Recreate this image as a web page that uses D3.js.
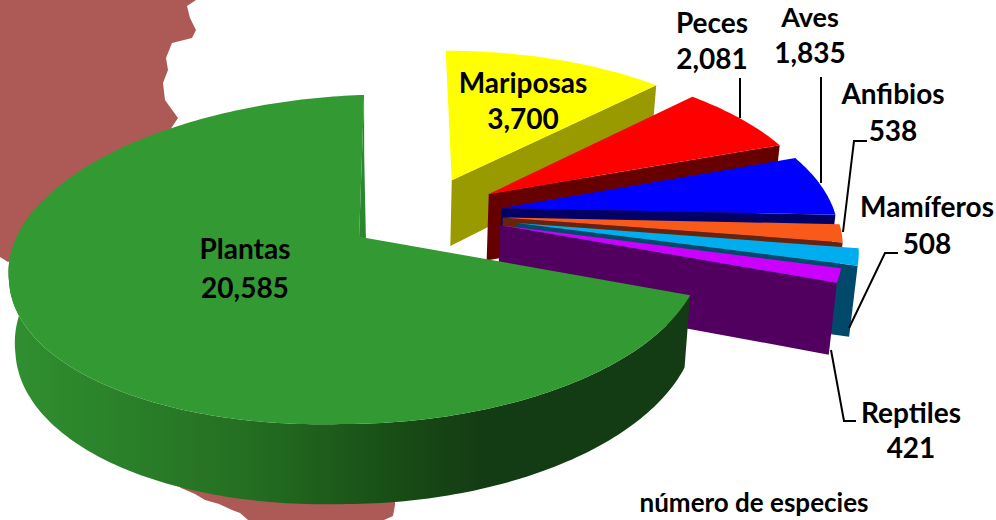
<!DOCTYPE html>
<html>
<head>
<meta charset="utf-8">
<script src="https://cdnjs.cloudflare.com/ajax/libs/d3/7.8.5/d3.min.js"></script>
<style>
  html, body { margin: 0; padding: 0; background: #fff; }
  svg { display: block; }
  text { font-family: Lato, "Open Sans", sans-serif; font-weight: 700; fill: #000; text-anchor: middle; }
</style>
</head>
<body>
<div id="chart"></div>
<script>
//Data, clockwise from the top of the pie
const names = ["Mariposas", "Peces", "Aves", "Anfibios", "Mamíferos", "Reptiles", "Plantas"];
const counts = [3700, 2081, 1835, 538, 508, 421, 20585];
const axisNote = "número de especies";

//Slice styles
const topColors = ["#ffff00", "#ff0000", "#0000ff", "#f95a1a", "#00aeef", "#cc00ff", "#339933"];
const faceColors = ["#999900", "#660000", "#000066", "#642410", "#00496b", "#520060", "#2c862e"];
const explode = [0.24, 0.24, 0.24, 0.24, 0.285, 0.24, 0.23];

//Label layout: [x, name baseline, value baseline, font size of the name]
const labelPos = [[523, 93, 129, 28], [712, 33, 69, 28], [810, 27, 63, 27], [893, 104, 141, 28], [927, 217, 254, 28], [911, 423, 458, 28], [245, 259, 298, 28]];
const leaders = [
  null,
  [[740, 78], [740, 118]],
  [[821, 77], [821, 183]],
  [[867, 141], [854, 141], [843, 232]],
  [[898, 253], [885, 253], [849, 328]],
  [[856, 421], [844, 421], [831, 350]],
  null
];

//Background map, bits that stick out behind the pie
const mapLeft = [[0, 0], [196, 0], [187, 6], [190, 18], [196, 30], [192, 38], [172, 43], [166, 58], [168, 70], [163, 83], [165, 100], [178, 118], [150, 160], [60, 230], [8, 262], [0, 257]];
const mapBottom = [[174, 482], [181, 488], [195, 494], [205, 500], [219, 504], [232, 510], [240, 513], [248, 520], [384, 520], [393, 516], [395, 505], [395, 470], [200, 470]];

//Perspective of the pie plane
const width = 996, height = 520;
const persp = 0.139, radX = 340, radY = 161.8;
const vanishX = 400, baseY = 236, originU = 0.18, originV = 0.14, offsetX = -38;
const depth = 69, shrink = 0.0175, shrinkX = 370;
const last = names.length - 1;

function project(angle, r, d, i, z) {
  const mid = (d.startAngle + d.endAngle) / 2;
  const e = explode[i];
  let su = r * Math.sin(angle);
  if (i === last && su < 0) su *= 1.02; //the big slice bulges a bit on its left
  const u = originU + e * Math.sin(mid) + su;
  const v = originV + e * Math.cos(mid) + r * Math.cos(angle);
  const s = 1 / (1 + persp * v);
  let x = vanishX + (offsetX + radX * u) * s;
  let y = baseY - radY * v * s;
  //its ellipse leans to the left towards the viewer
  if (i === last) {
    x = x - 0.07 * Math.max(0, y - 270);
    if (su < 0) y = y - 10 * su;
  }
  if (z) {
    x = x - shrink * (x - shrinkX);
    y = y + depth * s;
  }
  if (i === last) y = y + 2;
  return [x, y];
}

const slices = d3.pie().sort(null).value(function(d) { return d; })(counts);
const format = d3.format(",");
const path = d3.line();

const svg = d3.select("#chart").append("svg").attr("width", width).attr("height", height);

//Gradient for the round side of the big slice
const grad = svg.append("defs").append("linearGradient")
  .attr("id", "rim").attr("gradientUnits", "userSpaceOnUse")
  .attr("x1", 10).attr("x2", 480).attr("y1", 0).attr("y2", 0);
[[0, "#309030"], [0.5, "#246f22"], [0.85, "#174a15"], [1, "#143c14"]].forEach(function(s) {
  grad.append("stop").attr("offset", s[0]).attr("stop-color", s[1]);
});

svg.selectAll(".map").data([mapLeft, mapBottom]).enter().append("path")
  .attr("class", "map").attr("d", function(d) { return path(d) + "Z"; }).attr("fill", "#ad5a57");

//Slices back to front
slices.forEach(function(d, i) {
  const g = svg.append("g").attr("class", "slice");
  const steps = d3.range(d.startAngle, d.endAngle, Math.PI / 180).concat([d.endAngle]);
  const apexTop = project(0, 0, d, i, 0), apexBot = project(0, 0, d, i, 1);

  if (i === last) {
    //round side, then the thin cut face at the top
    const arcs = steps.filter(function(a) { return a < Math.PI * 1.6; });
    const top = arcs.map(function(a) { return project(a, 1, d, i, 0); });
    const bot = arcs.map(function(a) { return project(a, 1, d, i, 1); }).reverse();
    g.append("path").attr("d", path(top.concat(bot)) + "Z").attr("fill", "url(#rim)");
    g.append("path")
      .attr("d", path([apexTop, project(d.endAngle, 1, d, i, 0), project(d.endAngle, 1, d, i, 1), [apexBot[0] + 8, apexBot[1]]]) + "Z")
      .attr("fill", faceColors[i]);
  } else {
    g.append("path")
      .attr("d", path([apexTop, project(d.endAngle, 1, d, i, 0), project(d.endAngle, 1, d, i, 1), apexBot]) + "Z")
      .attr("fill", faceColors[i]);
  }

  const rim = steps.map(function(a) { return project(a, 1, d, i, 0); });
  g.append("path").attr("d", path([apexTop].concat(rim)) + "Z").attr("fill", topColors[i]);
});

//Leader lines
svg.selectAll(".leader").data(leaders.filter(Boolean)).enter().append("path")
  .attr("class", "leader").attr("d", path).attr("fill", "none").attr("stroke", "#000").attr("stroke-width", 2);

//Labels
names.forEach(function(name, i) {
  svg.append("text").attr("x", labelPos[i][0]).attr("y", labelPos[i][1]).attr("font-size", labelPos[i][3]).text(name);
  svg.append("text").attr("x", labelPos[i][0]).attr("y", labelPos[i][2]).attr("font-size", 28).text(format(counts[i]));
});
svg.append("text").attr("x", 754).attr("y", 512).attr("font-size", 26).text(axisNote);
</script>
</body>
</html>
